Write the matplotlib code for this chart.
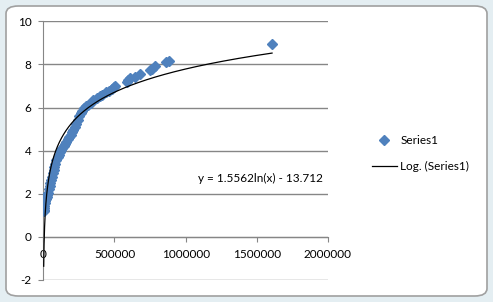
import numpy as np
import matplotlib
matplotlib.use("Agg")
import matplotlib.pyplot as plt
from matplotlib.patches import FancyBboxPatch

plt.rcParams['font.family'] = ['Lato', 'DejaVu Sans']

# data (x in units, y values)
x_vals = [2800, 4000, 6000, 8000, 11000, 15000, 19000, 24000, 29000, 35000,
          40000, 45000, 50000, 55000, 60000, 66000, 72000, 78000, 85000, 92000,
          100000, 108000, 116000, 125000, 134000, 143000, 152000, 162000, 172000, 182000,
          192000, 202000, 212000, 222000, 232000, 242000, 252000, 262000, 272000, 285000,
          298000, 315000, 335000, 352000, 374000, 395000, 410000, 440000, 463000, 480000,
          495000, 505000, 585000, 597000, 612000, 643000, 678000, 750000, 765000, 785000,
          862000, 880000, 1607000]
y_vals = [1.20, 1.25, 1.35, 1.45, 1.55, 1.65, 1.75, 1.85, 1.95, 2.05,
          2.20, 2.35, 2.50, 2.65, 2.80, 2.95, 3.10, 3.25, 3.40, 3.55,
          3.70, 3.82, 3.93, 4.03, 4.13, 4.22, 4.32, 4.42, 4.52, 4.62,
          4.72, 4.85, 4.97, 5.10, 5.25, 5.40, 5.60, 5.75, 5.85, 5.98,
          6.05, 6.12, 6.22, 6.33, 6.44, 6.52, 6.60, 6.72, 6.78, 6.85,
          6.93, 6.98, 7.20, 7.27, 7.36, 7.40, 7.54, 7.72, 7.80, 7.92,
          8.12, 8.15, 8.96]

# trendline coefficients shown on the chart
a_coef = 1.5562
b_coef = -13.712

x_ticks = [0, 500000, 1000000, 1500000, 2000000]
y_ticks = [-2, 0, 2, 4, 6, 8, 10]

W, H = 493, 302
fig = plt.figure(figsize=(W / 100, H / 100), dpi=100)
fig.patch.set_facecolor('#e4eef2')

# chart area (white rounded box like excel)
box = FancyBboxPatch((6 / W, 6 / H), (487 - 6) / W, (296 - 6) / H,
                     boxstyle="round,pad=0,rounding_size=0.025",
                     transform=fig.transFigure, facecolor='white',
                     edgecolor='#a0a0a0', linewidth=1.2, zorder=0)
fig.patches.append(box)

left, right = 43.3 / W, 328 / W
bottom, top = 1 - 280 / H, 1 - 21.3 / H
ax = fig.add_axes([left, bottom, right - left, top - bottom])
ax.set_zorder(2)
ax.set_facecolor('none')

x = np.array(x_vals)
y = np.array(y_vals)
ax.plot(x, y, linestyle='none', marker='D', markersize=5.5,
        color='#4f81bd', label='Series1', zorder=3)

xt = np.geomspace(x.min(), x.max(), 400)
ax.plot(xt, a_coef * np.log(xt) + b_coef, color='black', lw=0.9,
        label='Log. (Series1)', zorder=4)

ax.set_xlim(0, 2000000)
ax.set_ylim(-2, 10)
ax.set_xticks(x_ticks)
ax.set_yticks(y_ticks)
ax.set_xticklabels([str(v) for v in x_ticks])
ax.set_yticklabels([str(v) for v in y_ticks])

grid_c = '#868686'
ax.yaxis.grid(True, color=grid_c, lw=1)
ax.set_axisbelow(True)
for s in ['top', 'right']:
    ax.spines[s].set_visible(False)
ax.spines['bottom'].set_position(('data', 0))
ax.spines['bottom'].set_color(grid_c)
ax.spines['left'].set_color(grid_c)
ax.tick_params(axis='x', direction='out', length=3.5, color=grid_c,
               labelsize=8.5, pad=5)
ax.tick_params(axis='y', direction='out', length=3.5, color=grid_c,
               labelsize=8.5, pad=5)

ax.text(0.761, 0.394, 'y = 1.5562ln(x) - 13.712', transform=ax.transAxes,
        ha='center', va='center', fontsize=8.5)

leg = fig.legend(loc='upper left', bbox_to_anchor=(372 / W, 1 - 135 / H),
                 frameon=False, fontsize=8.5, handlelength=2.1,
                 handletextpad=0.3, labelspacing=1.25, borderpad=0,
                 borderaxespad=0)
leg.set_zorder(3)

fig.savefig('out.png', dpi=100)
